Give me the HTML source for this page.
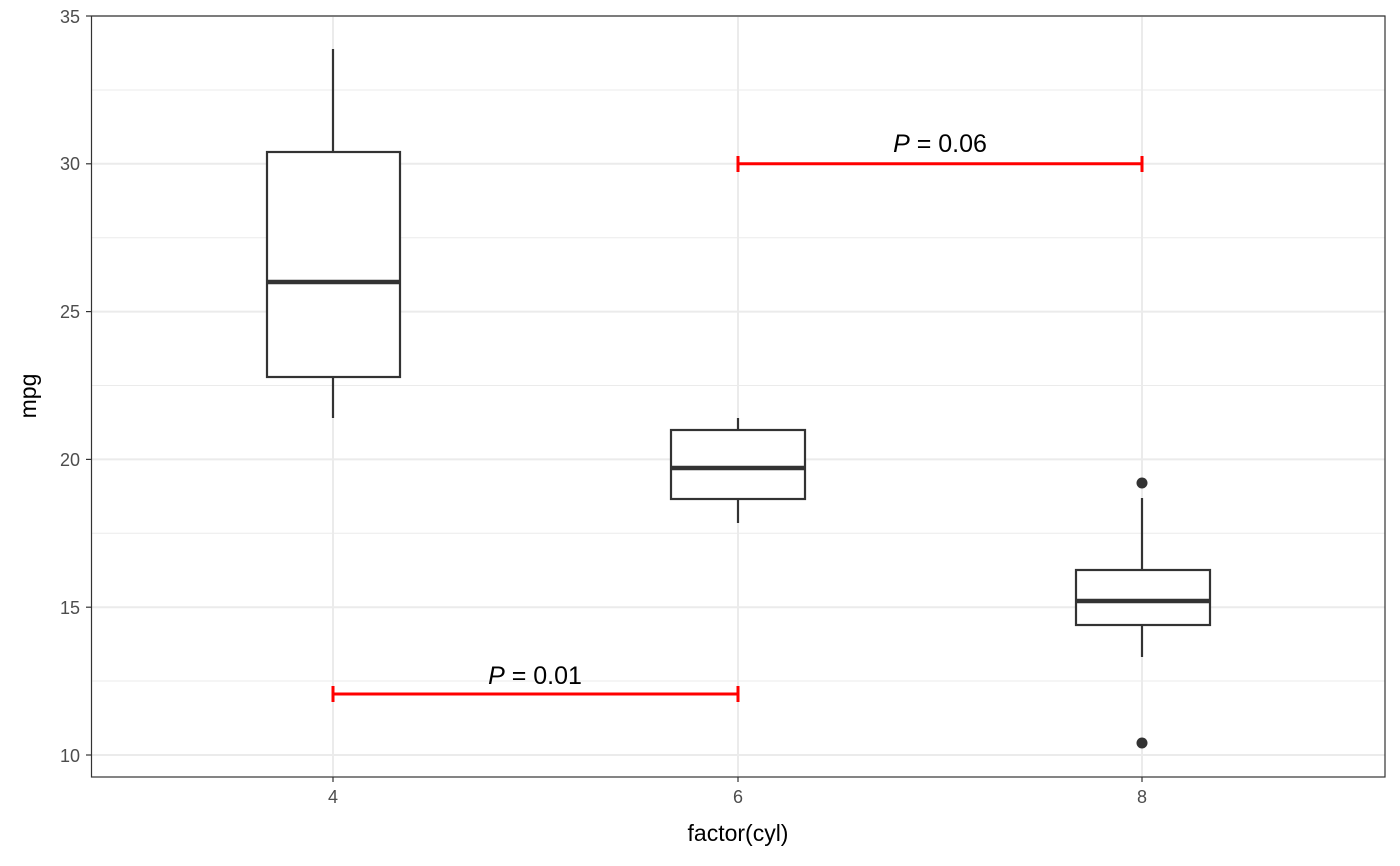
<!DOCTYPE html>
<html><head><meta charset="utf-8"><style>
html,body{margin:0;padding:0;background:#fff;}
svg{display:block;font-family:"Liberation Sans","DejaVu Sans",sans-serif;}
</style></head><body>
<svg width="1400" height="866" viewBox="0 0 1400 866" xmlns="http://www.w3.org/2000/svg">
<rect x="0" y="0" width="1400" height="866" fill="#fff"/>
<g stroke="#ebebeb" stroke-width="1">
<line x1="91" x2="1385" y1="90" y2="90"/>
<line x1="91" x2="1385" y1="237.7" y2="237.7"/>
<line x1="91" x2="1385" y1="385.5" y2="385.5"/>
<line x1="91" x2="1385" y1="533.3" y2="533.3"/>
<line x1="91" x2="1385" y1="681" y2="681"/>
</g>
<g stroke="#ebebeb" stroke-width="2">
<line x1="91" x2="1385" y1="16" y2="16"/>
<line x1="91" x2="1385" y1="163.8" y2="163.8"/>
<line x1="91" x2="1385" y1="311.6" y2="311.6"/>
<line x1="91" x2="1385" y1="459.4" y2="459.4"/>
<line x1="91" x2="1385" y1="607.2" y2="607.2"/>
<line x1="91" x2="1385" y1="755" y2="755"/>
<line x1="333" x2="333" y1="16" y2="777"/>
<line x1="738" x2="738" y1="16" y2="777"/>
<line x1="1142" x2="1142" y1="16" y2="777"/>
</g>
<g stroke="#333" stroke-width="2.2" fill="#fff">
<line x1="333" x2="333" y1="49" y2="152"/><line x1="333" x2="333" y1="377" y2="418"/>
<rect x="267" y="152" width="133" height="225"/>
<line x1="267" x2="400" y1="282" y2="282" stroke-width="4.5"/>
<line x1="738" x2="738" y1="418" y2="430"/><line x1="738" x2="738" y1="499" y2="523"/>
<rect x="671" y="430" width="134" height="69"/>
<line x1="671" x2="805" y1="468" y2="468" stroke-width="4.5"/>
<line x1="1142" x2="1142" y1="498" y2="570"/><line x1="1142" x2="1142" y1="625" y2="657"/>
<rect x="1076" y="570" width="134" height="55"/>
<line x1="1076" x2="1210" y1="601" y2="601" stroke-width="4.5"/>
</g>
<circle cx="1142" cy="483" r="5.5" fill="#333"/>
<circle cx="1142" cy="743" r="5.5" fill="#333"/>
<g stroke="#f00" stroke-width="3">
<line x1="738" x2="1142" y1="163.8" y2="163.8"/>
<line x1="738" x2="738" y1="156" y2="172"/><line x1="1142" x2="1142" y1="156" y2="172"/>
<line x1="333" x2="738" y1="694" y2="694"/>
<line x1="333" x2="333" y1="686" y2="702"/><line x1="738" x2="738" y1="686" y2="702"/>
</g>
<g font-size="25" fill="#000" text-anchor="middle">
<text x="940" y="152"><tspan font-style="italic">P</tspan> = 0.06</text>
<text x="535" y="684"><tspan font-style="italic">P</tspan> = 0.01</text>
</g>
<rect x="91.5" y="16" width="1293.5" height="761" fill="none" stroke="#333" stroke-width="1.2"/>
<g stroke="#333" stroke-width="1.2">
<line x1="86" x2="91" y1="16" y2="16"/><line x1="86" x2="91" y1="163.8" y2="163.8"/>
<line x1="86" x2="91" y1="311.6" y2="311.6"/><line x1="86" x2="91" y1="459.4" y2="459.4"/>
<line x1="86" x2="91" y1="607.2" y2="607.2"/><line x1="86" x2="91" y1="755" y2="755"/>
<line x1="333" x2="333" y1="777" y2="782"/><line x1="738" x2="738" y1="777" y2="782"/>
<line x1="1142" x2="1142" y1="777" y2="782"/>
</g>
<g font-size="18" fill="#4d4d4d" text-anchor="end">
<text x="80" y="23">35</text><text x="80" y="170">30</text><text x="80" y="318">25</text>
<text x="80" y="466">20</text><text x="80" y="614">15</text><text x="80" y="762">10</text>
</g>
<g font-size="18" fill="#4d4d4d" text-anchor="middle">
<text x="333" y="803">4</text><text x="738" y="803">6</text><text x="1142" y="803">8</text>
</g>
<text x="738" y="841" font-size="23" text-anchor="middle" fill="#000">factor(cyl)</text>
<text transform="translate(36,396) rotate(-90)" font-size="23" text-anchor="middle" fill="#000">mpg</text>
</svg>
</body></html>
